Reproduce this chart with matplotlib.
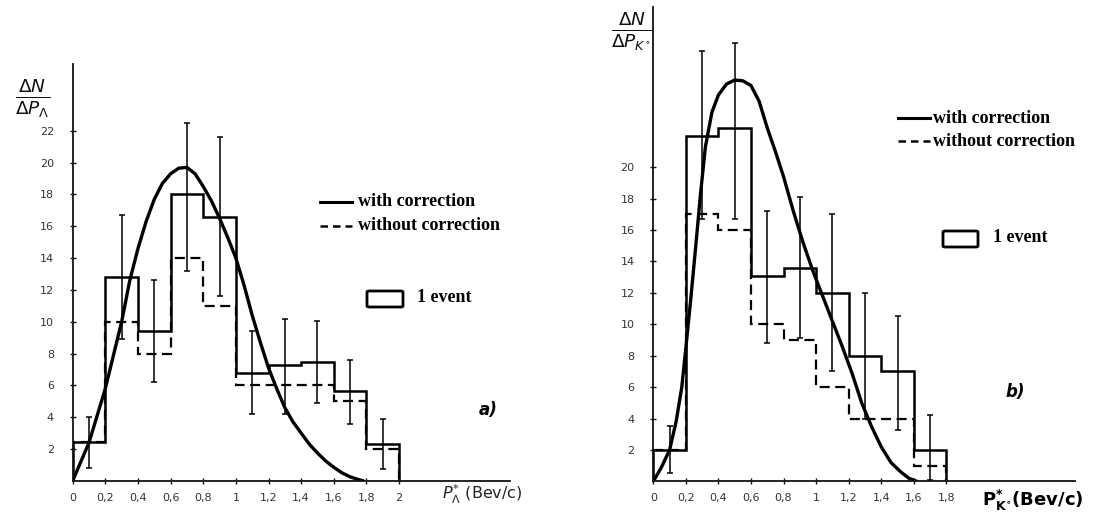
import numpy as np
import matplotlib
matplotlib.use("Agg")
import matplotlib.pyplot as plt
from matplotlib.lines import Line2D
from matplotlib.patches import FancyBboxPatch

# ---------------- data ----------------
# Panel a (Lambda)
a_edges = [0.0, 0.2, 0.4, 0.6, 0.8, 1.0, 1.2, 1.4, 1.6, 1.8, 2.0]
a_with = [2.45, 12.8, 9.4, 18.0, 16.6, 6.8, 7.3, 7.45, 5.65, 2.3]
a_without = [2.45, 10.0, 8.0, 14.0, 11.0, 6.0, 6.0, 6.0, 5.0, 2.0]
a_err_x = [0.1, 0.3, 0.5, 0.7, 0.9, 1.1, 1.3, 1.5, 1.7, 1.9]
a_err_lo = [0.8, 8.9, 6.2, 13.2, 11.6, 4.2, 4.2, 4.9, 3.6, 0.75]
a_err_hi = [4.0, 16.7, 12.6, 22.5, 21.6, 9.4, 10.2, 10.05, 7.6, 3.9]
a_curve_x = [0, 0.1, 0.2, 0.3, 0.35, 0.4, 0.45, 0.5, 0.55, 0.6, 0.65, 0.7, 0.75,
             0.8, 0.85, 0.9, 0.95, 1.0, 1.05, 1.1, 1.15, 1.2, 1.25, 1.3, 1.35,
             1.4, 1.45, 1.5, 1.55, 1.6, 1.65, 1.7, 1.75, 1.78]
a_curve_y = [0, 2.4, 5.8, 10.0, 12.6, 14.6, 16.3, 17.7, 18.7, 19.3, 19.65, 19.7, 19.3,
             18.5, 17.6, 16.5, 15.3, 14.0, 12.3, 10.4, 8.7, 7.1, 5.8, 4.6, 3.7,
             3.0, 2.3, 1.75, 1.25, 0.85, 0.5, 0.25, 0.08, 0]
a_xticks = [0, 0.2, 0.4, 0.6, 0.8, 1.0, 1.2, 1.4, 1.6, 1.8, 2.0]
a_xticklabels = ["0", "0,2", "0,4", "0,6", "0,8", "1", "1,2", "1,4", "1,6", "1,8", "2"]
a_yticks = [2, 4, 6, 8, 10, 12, 14, 16, 18, 20, 22]

# Panel b (K0)
b_edges = [0.0, 0.2, 0.4, 0.6, 0.8, 1.0, 1.2, 1.4, 1.6, 1.8]
b_with = [2.0, 22.0, 22.5, 13.1, 13.6, 12.0, 8.0, 7.0, 2.0]
b_without = [2.0, 17.0, 16.0, 10.0, 9.0, 6.0, 4.0, 4.0, 1.0]
b_err_x = [0.1, 0.3, 0.5, 0.7, 0.9, 1.1, 1.3, 1.5, 1.7]
b_err_lo = [0.55, 16.7, 16.7, 8.8, 9.1, 7.0, 4.0, 3.3, 0.1]
b_err_hi = [3.5, 27.4, 27.9, 17.2, 18.1, 17.0, 12.0, 10.5, 4.2]
b_curve_x = [0, 0.05, 0.1, 0.14, 0.175, 0.2, 0.23, 0.26, 0.29, 0.32, 0.36, 0.4,
             0.45, 0.5, 0.55, 0.6, 0.65, 0.7, 0.75, 0.8, 0.86, 0.92, 0.98, 1.04,
             1.1, 1.16, 1.22, 1.28, 1.34, 1.4, 1.46, 1.52, 1.57, 1.62]
b_curve_y = [0, 0.9, 2.0, 3.8, 6.0, 8.5, 11.6, 14.9, 18.3, 21.3, 23.5, 24.6,
             25.3, 25.55, 25.5, 25.2, 24.2, 22.5, 21.0, 19.4, 17.2, 15.2, 13.4, 11.8,
             10.2, 8.6, 6.9, 5.0, 3.5, 2.2, 1.2, 0.6, 0.2, 0]
b_xticks = [0, 0.2, 0.4, 0.6, 0.8, 1.0, 1.2, 1.4, 1.6, 1.8]
b_xticklabels = ["0", "0,2", "0,4", "0,6", "0,8", "1", "1,2", "1,4", "1,6", "1,8"]
b_yticks = [2, 4, 6, 8, 10, 12, 14, 16, 18, 20]

legend_labels = ["with correction", "without correction"]
event_label = "1 event"

# ---------------- figure ----------------
W, H = 1112, 521
fig = plt.figure(figsize=(W / 100, H / 100), dpi=100)
fig.patch.set_facecolor("white")


def fx(x):
    return x / W


def fy(y):
    return 1 - y / H


def style_axes(ax, xticks, xlabels, yticks):
    for s in ("top", "right"):
        ax.spines[s].set_visible(False)
    for s in ("left", "bottom"):
        ax.spines[s].set_linewidth(1.3)
        ax.spines[s].set_color("#111111")
    ax.set_xticks(xticks)
    ax.set_xticklabels(xlabels)
    ax.set_yticks(yticks)
    ax.set_yticklabels([str(v) for v in yticks])
    ax.tick_params(axis="both", direction="inout", length=5, width=1.0,
                   labelsize=8, colors="#111111", labelcolor="#333333")
    ax.tick_params(axis="y", pad=11)
    ax.tick_params(axis="x", pad=6)
    ax.set_facecolor("none")


def draw_panel(ax, edges, with_v, without_v, ex, elo, ehi, cx, cy):
    ax.stairs(without_v, edges, baseline=0, fill=False, color="black",
              linewidth=1.6, linestyle=(0, (4.5, 2.5)))
    ax.stairs(with_v, edges, baseline=0, fill=False, color="black", linewidth=1.8)
    ex = np.asarray(ex)
    elo = np.asarray(elo)
    ehi = np.asarray(ehi)
    mid = (elo + ehi) / 2
    half = (ehi - elo) / 2
    ax.errorbar(ex, mid, yerr=half, fmt="none", ecolor="black",
                elinewidth=1.1, capsize=2.5, capthick=1.1)
    ax.plot(cx, cy, color="black", linewidth=2.4, solid_capstyle="round")


# Panel a
axa = fig.add_axes([fx(72.7), 1 - 480.8 / H, 437.3 / W, 416.8 / H])
axa.set_xlim(0, 2.68)
axa.set_ylim(0, 26.2)
draw_panel(axa, a_edges, a_with, a_without, a_err_x, a_err_lo, a_err_hi,
           a_curve_x, a_curve_y)
style_axes(axa, a_xticks, a_xticklabels, a_yticks)

# Panel b
axb = fig.add_axes([fx(653.3), 1 - 481.4 / H, 421.7 / W, 474.4 / H])
axb.set_xlim(0, 2.59)
axb.set_ylim(0, 30.2)
draw_panel(axb, b_edges, b_with, b_without, b_err_x, b_err_lo, b_err_hi,
           b_curve_x, b_curve_y)
style_axes(axb, b_xticks, b_xticklabels, b_yticks)

# y-axis labels (fractions)
fig.text(fx(33), fy(98), r"$\frac{\Delta N}{\Delta P_{\Lambda}}$", fontsize=19,
         ha="center", va="center", color="#111111")
fig.text(fx(632), fy(31), r"$\frac{\Delta N}{\Delta P_{K^{\circ}}}$", fontsize=19,
         ha="center", va="center", color="#111111")

# x-axis labels
fig.text(fx(482), fy(494), r"$P^{*}_{\Lambda}$ (Bev/c)", fontsize=11.5,
         ha="center", va="center", color="#222222")
fig.text(fx(1033), fy(500), r"$\mathbf{P^{*}_{K^{\circ}}}$(Bev/c)", fontsize=13,
         fontweight="bold", ha="center", va="center", color="black")

# panel letters
fig.text(fx(488), fy(410), "a)", fontsize=12, fontstyle="italic",
         fontweight="bold", ha="center", va="center")
fig.text(fx(1015), fy(392), "b)", fontsize=12, fontstyle="italic",
         fontweight="bold", ha="center", va="center")

serif = ["Liberation Serif", "DejaVu Serif"]


def legend_block(x0, x1, ytop, ybot, xtext, fs, box, xevt, yevt):
    fig.add_artist(Line2D([fx(x0), fx(x1)], [fy(ytop), fy(ytop)],
                          color="black", linewidth=2.2, transform=fig.transFigure))
    fig.add_artist(Line2D([fx(x0), fx(x1)], [fy(ybot), fy(ybot)],
                          color="black", linewidth=1.8, linestyle=(0, (3, 2)),
                          transform=fig.transFigure))
    fig.text(fx(xtext), fy(ytop), legend_labels[0], fontsize=fs, family=serif,
             fontweight="bold", ha="left", va="center")
    fig.text(fx(xtext), fy(ybot), legend_labels[1], fontsize=fs, family=serif,
             fontweight="bold", ha="left", va="center")
    bx0, by0, bx1, by1 = box
    fig.add_artist(FancyBboxPatch((fx(bx0), fy(by1)), fx(bx1 - bx0), (by1 - by0) / H,
                                  boxstyle="round,pad=0,rounding_size=0.002",
                                  transform=fig.transFigure, fill=False,
                                  edgecolor="black", linewidth=2.0))
    fig.text(fx(xevt), fy(yevt), event_label, fontsize=fs, family=serif,
             fontweight="bold", ha="left", va="center")


legend_block(320, 352, 202, 226, 358, 13, (367, 291, 403, 307), 417, 298)
legend_block(898, 930, 118, 141, 933, 13, (943, 231, 978, 247), 993, 237)

fig.savefig("out.png", dpi=100, facecolor="white")
